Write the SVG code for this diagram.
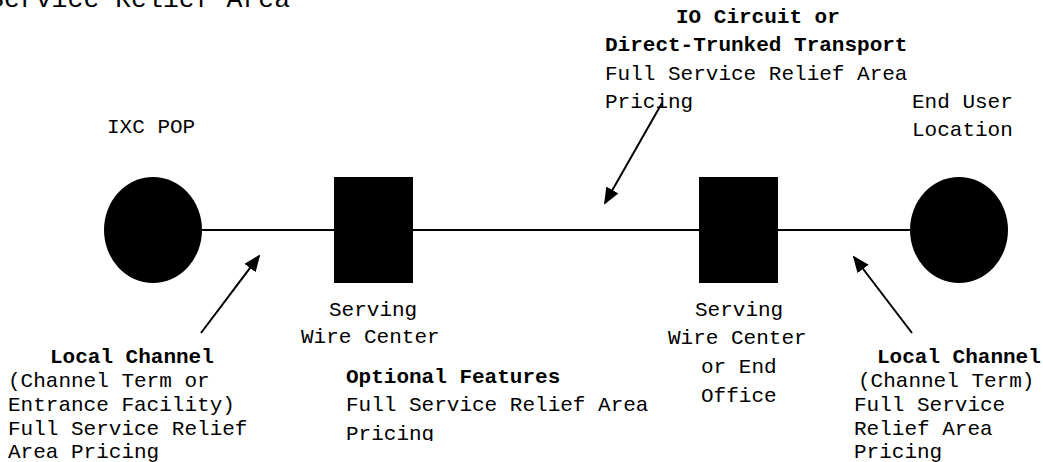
<svg xmlns="http://www.w3.org/2000/svg" width="1043" height="462" viewBox="0 0 1043 462">
<style>
text{font-family:"Liberation Mono","Courier New",monospace;font-size:21px;fill:#000}
.b{font-weight:bold}
.big{font-size:26.5px}
.node{fill:#000}
.conn{stroke:#000;stroke-width:2;fill:none}
.arr{stroke:#000;stroke-width:2;fill:none;marker-end:url(#ah)}
</style>
<defs>
<marker id="ah" markerUnits="userSpaceOnUse" markerWidth="17" markerHeight="15" refX="15" refY="7" orient="auto">
<path d="M0,0 L17,7 L0,14 z" fill="#000"/>
</marker>
<clipPath id="clipOpt"><rect x="0" y="0" width="1043" height="441"/></clipPath>
</defs>
<rect width="1043" height="462" fill="#fff"/>
<text id="title" class="big" x="-12" y="7">Service Relief Area</text>
<g id="connectors">
<line class="conn" x1="153" y1="230" x2="959" y2="230"/>
<line class="arr" x1="201" y1="333" x2="259" y2="256"/>
<line class="arr" x1="662" y1="103" x2="605" y2="203"/>
<line class="arr" x1="912" y1="333" x2="854" y2="257"/>
</g>
<g id="ixc-pop">
<ellipse class="node" cx="153" cy="230" rx="49" ry="53"/>
<text x="107" y="133">IXC POP</text>
</g>
<g id="serving-wire-center">
<rect class="node" x="334" y="177" width="79" height="106"/>
<text x="329" y="316">Serving</text>
<text x="301" y="343">Wire Center</text>
</g>
<g id="serving-wire-center-end-office">
<rect class="node" x="699" y="177" width="79" height="106"/>
<text x="695" y="316">Serving</text>
<text x="668" y="344">Wire Center</text>
<text x="701" y="373">or End</text>
<text x="701" y="402">Office</text>
</g>
<g id="end-user">
<ellipse class="node" cx="959" cy="230" rx="49" ry="53"/>
<text x="912" y="108">End User</text>
<text x="912" y="136">Location</text>
</g>
<g id="io-circuit-label">
<text class="b" x="676" y="23">IO Circuit or</text>
<text class="b" x="605" y="51">Direct-Trunked Transport</text>
<text x="605" y="80">Full Service Relief Area</text>
<text x="605" y="108">Pricing</text>
</g>
<g id="local-channel-left">
<text class="b" x="50" y="363">Local Channel</text>
<text x="8" y="387">(Channel Term or</text>
<text x="8" y="411">Entrance Facility)</text>
<text x="8" y="435">Full Service Relief</text>
<text x="8" y="458">Area Pricing</text>
</g>
<g id="optional-features">
<text class="b" x="346" y="383">Optional Features</text>
<text x="346" y="411">Full Service Relief Area</text>
<text x="346" y="440" clip-path="url(#clipOpt)">Pricing</text>
</g>
<g id="local-channel-right">
<text class="b" x="877" y="363">Local Channel</text>
<text x="858" y="387">(Channel Term)</text>
<text x="854" y="411">Full Service</text>
<text x="854" y="435">Relief Area</text>
<text x="854" y="458">Pricing</text>
</g>
</svg>
